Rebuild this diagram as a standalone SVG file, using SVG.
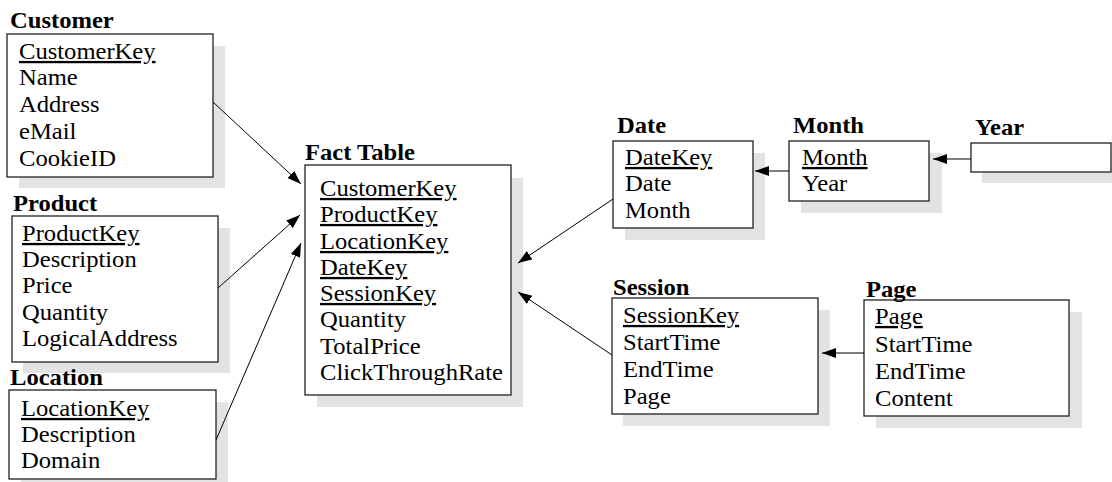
<svg xmlns="http://www.w3.org/2000/svg" width="1112" height="482" viewBox="0 0 1112 482">
<style>
text{font-family:"Liberation Serif","Times New Roman",serif;font-size:23px;fill:#000;transform-box:fill-box;transform-origin:0 0;transform:scaleX(1.07)}
.t{font-weight:bold}
.k{text-decoration:underline}
.sh{fill:#e3e3e3;stroke:none}
.bx{fill:#fff;stroke:#222;stroke-width:1.3}
.c line{stroke:#000;stroke-width:1;marker-end:url(#ah)}
</style>
<defs>
<marker id="ah" markerUnits="userSpaceOnUse" markerWidth="15" markerHeight="11" refX="14" refY="5" orient="auto">
<path d="M0,0 L14,5 L0,10 z" fill="#000"/>
</marker>
</defs>
<rect width="1112" height="482" fill="#fff"/>
<g id="customer">
<rect class="sh" x="19" y="46" width="206" height="142"/>
<rect class="bx" x="7" y="34" width="206" height="143"/>
<text class="t" x="10" y="28">Customer</text>
<text class="k" x="19" y="59">CustomerKey</text>
<text x="19" y="85">Name</text>
<text x="19" y="112">Address</text>
<text x="19" y="139">eMail</text>
<text x="19" y="166">CookieID</text>
</g>
<g id="product">
<rect class="sh" x="23" y="228" width="207" height="145"/>
<rect class="bx" x="12" y="216" width="206" height="146"/>
<text class="t" x="13" y="211">Product</text>
<text class="k" x="22" y="241">ProductKey</text>
<text x="22" y="267">Description</text>
<text x="22" y="293">Price</text>
<text x="22" y="320">Quantity</text>
<text x="22" y="346">LogicalAddress</text>
</g>
<g id="location">
<rect class="sh" x="21" y="402" width="207" height="85"/>
<rect class="bx" x="9" y="390" width="207" height="89"/>
<text class="t" x="10" y="385">Location</text>
<text class="k" x="21" y="416">LocationKey</text>
<text x="21" y="442">Description</text>
<text x="21" y="468">Domain</text>
</g>
<g id="fact">
<rect class="sh" x="317" y="178" width="206" height="229"/>
<rect class="bx" x="305" y="165" width="206" height="230"/>
<text class="t" x="305" y="160">Fact Table</text>
<text class="k" x="320" y="196">CustomerKey</text>
<text class="k" x="320" y="222">ProductKey</text>
<text class="k" x="320" y="249">LocationKey</text>
<text class="k" x="320" y="275">DateKey</text>
<text class="k" x="320" y="301">SessionKey</text>
<text x="320" y="327">Quantity</text>
<text x="320" y="354">TotalPrice</text>
<text x="320" y="380">ClickThroughRate</text>
</g>
<g id="date">
<rect class="sh" x="625" y="153" width="140" height="87"/>
<rect class="bx" x="613" y="141" width="140" height="87"/>
<text class="t" x="617" y="133">Date</text>
<text class="k" x="625" y="165">DateKey</text>
<text x="625" y="191">Date</text>
<text x="625" y="218">Month</text>
</g>
<g id="month">
<rect class="sh" x="801" y="153" width="141" height="60"/>
<rect class="bx" x="789" y="141" width="140" height="60"/>
<text class="t" x="793" y="133">Month</text>
<text class="k" x="802" y="165">Month</text>
<text x="802" y="191">Year</text>
</g>
<g id="year">
<rect class="sh" x="982" y="155" width="140" height="28"/>
<rect class="bx" x="971" y="143" width="140" height="29"/>
<text class="t" x="975" y="135">Year</text>
</g>
<g id="session">
<rect class="sh" x="623" y="310" width="207" height="116"/>
<rect class="bx" x="612" y="298" width="206" height="116"/>
<text class="t" x="613" y="295">Session</text>
<text class="k" x="623" y="323">SessionKey</text>
<text x="623" y="350">StartTime</text>
<text x="623" y="377">EndTime</text>
<text x="623" y="404">Page</text>
</g>
<g id="page">
<rect class="sh" x="876" y="312" width="206" height="116"/>
<rect class="bx" x="864" y="300" width="205" height="116"/>
<text class="t" x="866" y="297">Page</text>
<text class="k" x="875" y="324">Page</text>
<text x="875" y="352">StartTime</text>
<text x="875" y="379">EndTime</text>
<text x="875" y="406">Content</text>
</g>
<g id="connectors" class="c">
<line x1="213" y1="102" x2="301" y2="184"/>
<line x1="218" y1="288" x2="300" y2="215"/>
<line x1="216" y1="440" x2="301" y2="243"/>
<line x1="613" y1="199" x2="518" y2="263"/>
<line x1="612" y1="355" x2="518" y2="292"/>
<line x1="789" y1="171" x2="755" y2="171"/>
<line x1="971" y1="159" x2="933" y2="159"/>
<line x1="864" y1="353" x2="822" y2="353"/>
</g>
</svg>
